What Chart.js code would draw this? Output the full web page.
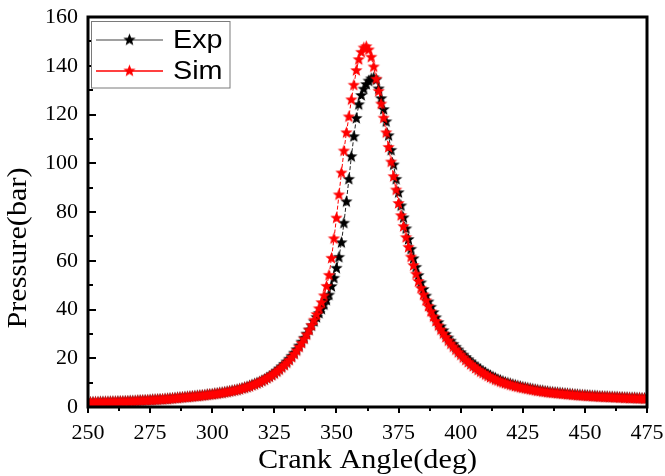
<!DOCTYPE html>
<html>
<head>
<meta charset="utf-8">
<script src="https://cdn.jsdelivr.net/npm/chart.js@4.4.0/dist/chart.umd.min.js"></script>
<style>
  html, body { margin: 0; padding: 0; background: #fff; }
  #c { display: block; }
</style>
</head>
<body>
<canvas id="c" width="665" height="476"></canvas>
<script>
// ---- data ----
const angleStart = 250;
const angleEnd = 475;
const angles = [];
for (let a = angleStart; a <= angleEnd; a++) angles.push(a);

const simPressure = [
  1.8,1.8,1.8,1.9,1.9,1.9,1.9,2.0,2.0,2.0,
  2.1,2.1,2.1,2.2,2.2,2.2,2.3,2.3,2.3,2.4,
  2.5,2.5,2.6,2.6,2.7,2.7,2.8,2.9,2.9,3.0,
  3.1,3.2,3.2,3.3,3.4,3.5,3.6,3.7,3.8,3.9,
  4.0,4.1,4.2,4.3,4.4,4.5,4.6,4.7,4.9,5.0,
  5.1,5.3,5.4,5.6,5.7,5.9,6.1,6.3,6.5,6.7,
  6.9,7.2,7.5,7.8,8.1,8.4,8.8,9.2,9.6,10.1,
  10.6,11.1,11.7,12.3,12.9,13.6,14.4,15.2,16.1,17.0,
  18.0,19.1,20.3,21.6,23.0,24.5,26.1,27.8,29.6,31.5,
  33.5,35.6,37.9,40.3,42.8,45.6,49.5,54,61,69,
  77.5,87,96,105,112.5,119,126,132,138,142.5,
  145.5,147.3,147.8,146.5,143.5,139.5,134.5,129.5,124.3,118.5,
  112.5,106.5,100.5,94.5,89,83.5,78.5,74,69.5,65.5,
  61.5,58,54.5,51.5,48.7,46,43.6,41.3,39.1,37,
  35.1,33.3,31.6,30.0,28.5,27.1,25.8,24.6,23.4,22.3,
  21.3,20.2,19.2,18.3,17.4,16.6,15.8,15.1,14.4,13.8,
  13.2,12.6,12.1,11.6,11.1,10.7,10.3,9.9,9.6,9.3,
  9.0,8.7,8.4,8.2,7.9,7.7,7.5,7.3,7.1,6.9,
  6.7,6.5,6.4,6.2,6.1,5.9,5.8,5.7,5.6,5.5,
  5.4,5.3,5.2,5.1,5.0,4.9,4.8,4.7,4.6,4.6,
  4.5,4.4,4.4,4.3,4.2,4.2,4.1,4.1,4.0,4.0,
  3.9,3.9,3.8,3.8,3.7,3.7,3.6,3.6,3.5,3.5,
  3.5,3.4,3.4,3.4,3.3,3.3
];

const expPressure = [
  1.8,1.8,1.9,1.9,1.9,2.0,2.0,2.0,2.0,2.1,
  2.1,2.1,2.2,2.2,2.2,2.3,2.3,2.4,2.4,2.4,
  2.5,2.6,2.6,2.7,2.7,2.8,2.9,2.9,3.0,3.1,
  3.1,3.2,3.3,3.4,3.5,3.6,3.7,3.8,3.9,4.0,
  4.1,4.2,4.3,4.4,4.5,4.6,4.7,4.8,5.0,5.1,
  5.2,5.4,5.5,5.7,5.8,6.0,6.2,6.4,6.6,6.8,
  7.0,7.3,7.6,7.9,8.2,8.6,9.0,9.4,9.8,10.2,
  10.7,11.3,11.9,12.5,13.2,13.9,14.7,15.6,16.5,17.5,
  18.5,19.6,20.8,22.1,23.5,25.0,26.6,28.2,29.9,31.6,
  33.3,35.0,36.7,38.4,40.1,41.9,43.8,45.9,49.4,52.8,
  56.9,61.4,67.4,75.4,84.2,93.4,102.7,110.9,118.4,124.0,
  127.8,130.4,132.3,133.7,134.6,135.0,134.2,130.5,126.5,122.0,
  117.0,111.3,105.3,99.3,93.4,87.9,82.5,77.6,73.1,68.7,
  64.7,60.8,57.3,53.9,50.9,48.2,45.5,43.1,40.9,38.7,
  36.6,34.6,32.9,31.3,29.8,28.3,27.0,25.7,24.5,23.4,
  22.3,21.3,20.3,19.4,18.5,17.6,16.8,16.0,15.3,14.6,
  14.0,13.4,12.8,12.3,11.8,11.3,10.9,10.5,10.1,9.8,
  9.5,9.2,8.9,8.6,8.4,8.1,7.9,7.7,7.5,7.3,
  7.1,6.9,6.7,6.6,6.4,6.3,6.1,6.0,5.9,5.8,
  5.7,5.6,5.5,5.4,5.3,5.2,5.1,5.0,4.9,4.8,
  4.8,4.7,4.6,4.5,4.5,4.4,4.3,4.3,4.2,4.2,
  4.1,4.1,4.0,4.0,3.9,3.9,3.8,3.8,3.7,3.7,
  3.7,3.6,3.6,3.5,3.5,3.5
];

const xTickValues = [250, 275, 300, 325, 350, 375, 400, 425, 450, 475];
const yTickValues = [0, 20, 40, 60, 80, 100, 120, 140, 160];
const seriesLabels = ['Exp', 'Sim'];
const xTitle = 'Crank Angle(deg)';
const yTitle = 'Pressure(bar)';

// ---- styles ----
function makeStar(color, R, r) {
  const size = Math.ceil(R * 2) + 2;
  const c = document.createElement('canvas');
  c.width = size; c.height = size;
  const g = c.getContext('2d');
  g.fillStyle = color;
  g.beginPath();
  for (let i = 0; i < 10; i++) {
    const rad = (i % 2) ? r : R;
    const a = -Math.PI / 2 + i * Math.PI / 5;
    g.lineTo(size / 2 + rad * Math.cos(a), size / 2 + rad * Math.sin(a));
  }
  g.closePath();
  g.fill();
  return c;
}
const blackStar = makeStar('#000000', 6.5, 2.8);
const redStar = makeStar('#ff0000', 6.5, 2.8);

const expData = angles.map((a, i) => ({ x: a, y: expPressure[i] }));
const simData = angles.map((a, i) => ({ x: a, y: simPressure[i] }));

const SERIF = '"Liberation Serif", "Times New Roman", serif';
const SANS = '"Liberation Sans", Arial, sans-serif';

const framePlugin = {
  id: 'framePlugin',
  afterDraw(chart) {
    const ctx = chart.ctx;
    const { left, right, top, bottom } = chart.chartArea;
    const xs = chart.scales.x, ys = chart.scales.y;
    ctx.save();
    ctx.strokeStyle = '#000';
    ctx.lineWidth = 2;
    ctx.beginPath();
    for (let i = 0; i < yTickValues.length; i++) {
      const py = Math.round(ys.getPixelForValue(yTickValues[i]));
      ctx.moveTo(left, py); ctx.lineTo(left + 8, py);
      if (i < yTickValues.length - 1) {
        const pm = Math.round(ys.getPixelForValue((yTickValues[i] + yTickValues[i + 1]) / 2));
        ctx.moveTo(left, pm); ctx.lineTo(left + 5, pm);
      }
    }
    for (let i = 0; i < xTickValues.length; i++) {
      const px = Math.round(xs.getPixelForValue(xTickValues[i]));
      ctx.moveTo(px, bottom); ctx.lineTo(px, bottom + 6);
      if (i < xTickValues.length - 1) {
        const pm = Math.round(xs.getPixelForValue((xTickValues[i] + xTickValues[i + 1]) / 2));
        ctx.moveTo(pm, bottom); ctx.lineTo(pm, bottom + 4);
      }
    }
    ctx.stroke();
    ctx.lineWidth = 3;
    ctx.strokeRect(left, top, right - left, bottom - top);

    // axis titles
    ctx.fillStyle = '#000';
    ctx.font = '28px ' + SERIF;
    ctx.textAlign = 'center';
    ctx.textBaseline = 'middle';
    ctx.save();
    ctx.translate((left + right) / 2, 461);
    ctx.scale(1.08, 1);
    ctx.fillText(xTitle, 0, 0);
    ctx.restore();
    ctx.save();
    ctx.translate(19, 248);
    ctx.rotate(-Math.PI / 2);
    ctx.scale(1.08, 1);
    ctx.fillText(yTitle, 0, 0);
    ctx.restore();

    // legend
    ctx.fillStyle = '#fff';
    ctx.fillRect(92, 22, 138, 66);
    ctx.strokeStyle = '#7a7a7a';
    ctx.lineWidth = 1;
    ctx.strokeRect(91.5, 21.5, 138.5, 66.5);
    const rows = [
      { label: seriesLabels[0], y: 40, line: '#808080', star: blackStar },
      { label: seriesLabels[1], y: 71, line: '#ff0000', star: redStar }
    ];
    rows.forEach(r => {
      ctx.strokeStyle = r.line;
      ctx.lineWidth = 1.5;
      ctx.beginPath();
      ctx.moveTo(96, r.y); ctx.lineTo(163, r.y);
      ctx.stroke();
      ctx.drawImage(r.star, 129.5 - r.star.width / 2, r.y - r.star.height / 2);
      ctx.fillStyle = '#000';
      ctx.font = '25px ' + SANS;
      ctx.textAlign = 'left';
      ctx.textBaseline = 'middle';
      ctx.save();
      ctx.translate(173, r.y + 1);
      ctx.scale(1.15, 1);
      ctx.fillText(r.label, 0, 0);
      ctx.restore();
    });
    ctx.restore();
  }
};

new Chart(document.getElementById('c'), {
  type: 'line',
  data: {
    datasets: [
      {
        label: seriesLabels[1],
        data: simData,
        borderColor: '#ff0000',
        borderWidth: 1,
        borderDash: [4, 2],
        pointStyle: redStar,
        pointRadius: 6,
        pointHoverRadius: 6,
        fill: false,
        tension: 0
      },
      {
        label: seriesLabels[0],
        data: expData,
        borderColor: '#222222',
        borderWidth: 1,
        borderDash: [4, 2],
        pointStyle: blackStar,
        pointRadius: 6,
        pointHoverRadius: 6,
        fill: false,
        tension: 0
      }
    ]
  },
  options: {
    responsive: false,
    animation: false,
    devicePixelRatio: 1,
    layout: { padding: { left: 0, right: 18, top: 17, bottom: 0 } },
    plugins: { legend: { display: false }, tooltip: { enabled: false } },
    scales: {
      x: {
        type: 'linear',
        min: 250, max: 475,
        grid: { display: false, drawTicks: false },
        border: { display: false },
        afterFit: (s) => { s.height = 69; s.paddingLeft = 0; s.paddingRight = 0; },
        afterBuildTicks: (s) => { s.ticks = xTickValues.map(v => ({ value: v })); },
        ticks: {
          autoSkip: false, maxRotation: 0, padding: 13, color: '#000',
          font: { family: SERIF, size: 22 }
        }
      },
      y: {
        min: 0, max: 160,
        grid: { display: false, drawTicks: false },
        border: { display: false },
        afterFit: (s) => { s.width = 88; s.paddingTop = 0; s.paddingBottom = 0; },
        afterBuildTicks: (s) => { s.ticks = yTickValues.map(v => ({ value: v })); },
        ticks: {
          padding: 10, color: '#000',
          font: { family: SERIF, size: 22 }
        }
      }
    }
  },
  plugins: [framePlugin]
});
</script>
</body>
</html>
